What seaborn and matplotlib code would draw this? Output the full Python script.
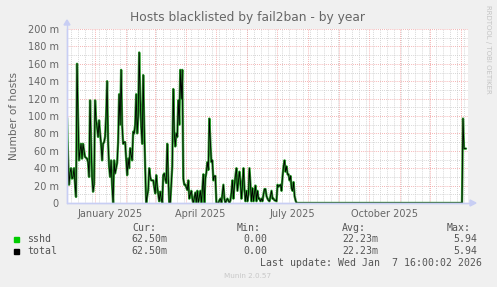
import matplotlib
matplotlib.use("Agg")
import matplotlib.pyplot as plt
import matplotlib.dates as mdates
from matplotlib.patches import Rectangle, Polygon
import numpy as np
import pandas as pd
import seaborn as sns

# ---------------- data (values in milli-hosts) ----------------
active_start = "2024-12-03 16:00"
sshd_active = [
    98, 55, 21, 35, 40, 28, 30, 40, 22, 7, 160, 100, 49, 60, 68, 51, 68, 60, 53, 52,
    51, 47, 30, 118, 70, 30, 13, 22, 118, 95, 87, 76, 95, 80, 68, 49, 68, 70, 76, 100,
    140, 70, 42, 30, 49, 20, 0, 49, 34, 40, 46, 70, 125, 90, 153, 90, 68, 70, 70, 50,
    32, 51, 40, 63, 55, 49, 82, 80, 90, 125, 80, 100, 173, 120, 88, 68, 147, 90, 40, 0,
    8, 15, 40, 30, 26, 26, 26, 18, 11, 32, 19, 10, 2, 13, 5, 0, 32, 34, 28, 23,
    68, 30, 0, 0, 20, 42, 131, 80, 65, 80, 76, 118, 90, 153, 120, 153, 28, 21, 21, 18,
    15, 26, 5, 10, 14, 5, 0, 6, 12, 0, 14, 0, 7, 14, 0, 15, 33, 0, 28, 35,
    47, 38, 97, 70, 47, 49, 26, 31, 31, 0, 0, 0, 3, 5, 0, 10, 21, 5, 0, 3,
    5, 3, 0, 3, 12, 26, 5, 20, 31, 40, 14, 25, 36, 24, 5, 20, 40, 16, 2, 14,
    2, 10, 40, 20, 2, 17, 2, 12, 20, 2, 14, 5, 5, 2, 5, 2, 10, 16, 16, 8,
    5, 3, 2, 8, 14, 5, 5, 3, 3, 2, 21, 19, 20, 21, 14, 30, 42, 49, 36, 42,
    33, 33, 26, 31, 17, 14, 24, 8, 3, 0,
]
quiet_dates = ["2025-07-21 16:00", "2026-01-01 16:00"]
quiet_values = [0, 0]
recent_dates = ["2026-01-02 16:00", "2026-01-03 16:00", "2026-01-05 16:00"]
recent_values = [97.0, 62.5, 62.5]

legend_names = ["sshd", "total"]
legend_colors = ["#00CC00", "#000000"]
stat_headers = ["Cur:", "Min:", "Avg:", "Max:"]
stat_values = [["62.50m", "0.00", "22.23m", "5.94"],
               ["62.50m", "0.00", "22.23m", "5.94"]]
title = "Hosts blacklisted by fail2ban - by year"
ylabel = "Number of hosts"
last_update = "Last update: Wed Jan  7 16:00:02 2026"
footer = "Munin 2.0.57"
side_text = "RRDTOOL / TOBI OETIKER"
yticks = [0, 20, 40, 60, 80, 100, 120, 140, 160, 180, 200]
xlabel_months = [("2025-01-16", "January 2025"), ("2025-04-16", "April 2025"),
                 ("2025-07-16", "July 2025"), ("2025-10-16", "October 2025")]
t_start = pd.Timestamp("2024-12-03 16:00")
t_end = pd.Timestamp("2026-01-07 16:00")

dates = list(pd.date_range(active_start, periods=len(sshd_active), freq="D")) \
    + list(pd.to_datetime(quiet_dates)) + list(pd.to_datetime(recent_dates))
sshd = list(sshd_active) + quiet_values + recent_values
df = pd.DataFrame({"date": dates, "sshd": sshd, "total": sshd})

# ---------------- figure ----------------
W, H = 497, 287
BG = "#F0F0F0"
FONT = "#666666"
AXIS = "#C8CEF4"
fig = plt.figure(figsize=(W / 100, H / 100), dpi=100, facecolor=BG)
sns.set_style("white")
plt.rcParams["font.family"] = ["DejaVu Sans"]

L, R, T, B = 67, 468, 29, 203
ax = fig.add_axes([L / W, 1 - B / H, (R - L) / W, (B - T) / H])
ax.set_facecolor("white")

ax.set_xlim(t_start, t_end)
ax.set_ylim(0, 200)

# grid
dot = (0, (1, 1.5))
for yv in range(10, 200, 20):
    ax.axhline(yv, color="#C8C8C8", lw=0.6, ls=dot, zorder=1)
for yv in range(20, 201, 20):
    ax.axhline(yv, color="#F29A9A", lw=0.6, ls=dot, zorder=1)
for d in pd.date_range("2024-12-08", t_end, freq="W-SUN"):
    ax.axvline(d, color="#C8C8C8", lw=0.6, ls=dot, zorder=1)
for d in pd.date_range("2024-12-01", t_end, freq="MS"):
    if d >= t_start:
        ax.axvline(d, color="#F29A9A", lw=0.6, ls=dot, zorder=1)

sns.lineplot(data=df, x="date", y="sshd", ax=ax, color="#2E9E2E", lw=1.7,
             zorder=3, legend=False)
sns.lineplot(data=df, x="date", y="total", ax=ax, color=legend_colors[1], lw=0.6,
             zorder=4, legend=False)

ax.axhline(0, color=AXIS, lw=1.0, zorder=5, clip_on=False)

for s in ["top", "right", "bottom"]:
    ax.spines[s].set_visible(False)
ax.spines["left"].set_color(AXIS)
ax.spines["left"].set_linewidth(1.0)

ax.set_yticks(yticks)
ax.set_yticklabels(["0" if v == 0 else f"{v} m" for v in yticks])
ax.set_xticks([pd.Timestamp(d) for d, _ in xlabel_months])
ax.set_xticklabels([lab for _, lab in xlabel_months])
ax.tick_params(axis="y", length=2, color="#BBBBBB", labelsize=7, labelcolor=FONT, pad=4)
ax.tick_params(axis="x", length=0, labelsize=7, labelcolor=FONT, pad=4)
ax.set_xlabel("")
ax.set_ylabel("")

# arrows
fig.add_artist(Polygon([[(L - 3) / W, 1 - 25 / H], [(L + 3) / W, 1 - 25 / H], [L / W, 1 - 20 / H]],
                       closed=True, transform=fig.transFigure, color=AXIS))
fig.add_artist(Polygon([[470 / W, 1 - 200 / H], [470 / W, 1 - 206 / H], [476 / W, 1 - 203 / H]],
                       closed=True, transform=fig.transFigure, color=AXIS))
fig.add_artist(plt.Line2D([L / W, L / W], [1 - B / H, 1 - 22 / H], transform=fig.transFigure,
                          color=AXIS, lw=1.0))
fig.add_artist(plt.Line2D([L / W, 472 / W], [1 - B / H, 1 - B / H], transform=fig.transFigure,
                          color=AXIS, lw=1.0))

# texts
fig.text(248 / W, 1 - 18 / H, title, ha="center", va="center", fontsize=8.8, color=FONT)
fig.text(14 / W, 1 - 116 / H, ylabel, ha="center", va="center", rotation=90, fontsize=7.6,
         color=FONT)
fig.text(488 / W, 1 - 5 / H, side_text, ha="center", va="top", rotation=270, fontsize=5,
         color="#C4C4C4")

mono = dict(family="DejaVu Sans Mono", fontsize=7.1, color="#555555", va="center")
col_x = [132, 237, 342, 447]
for cx, h in zip(col_x, stat_headers):
    fig.text(cx / W, 1 - 228 / H, h, ha="left", **mono)
row_y = [239, 251]
col_right = [167, 267, 378, 477]
for ry, name, colr, vals in zip(row_y, legend_names, legend_colors, stat_values):
    fig.add_artist(Rectangle((14 / W, 1 - (ry + 3) / H), 5 / W, 5 / H,
                             transform=fig.transFigure, color=colr))
    fig.text(27 / W, 1 - ry / H, name, ha="left", **mono)
    for cr, v in zip(col_right, vals):
        fig.text(cr / W, 1 - ry / H, v, ha="right", **mono)
fig.text(482 / W, 1 - 263 / H, last_update, ha="right", **mono)
fig.text(248 / W, 1 - 276 / H, footer, ha="center", va="center", fontsize=5.2, color="#C8C8C8")

fig.savefig("out.png", dpi=100, facecolor=BG)
